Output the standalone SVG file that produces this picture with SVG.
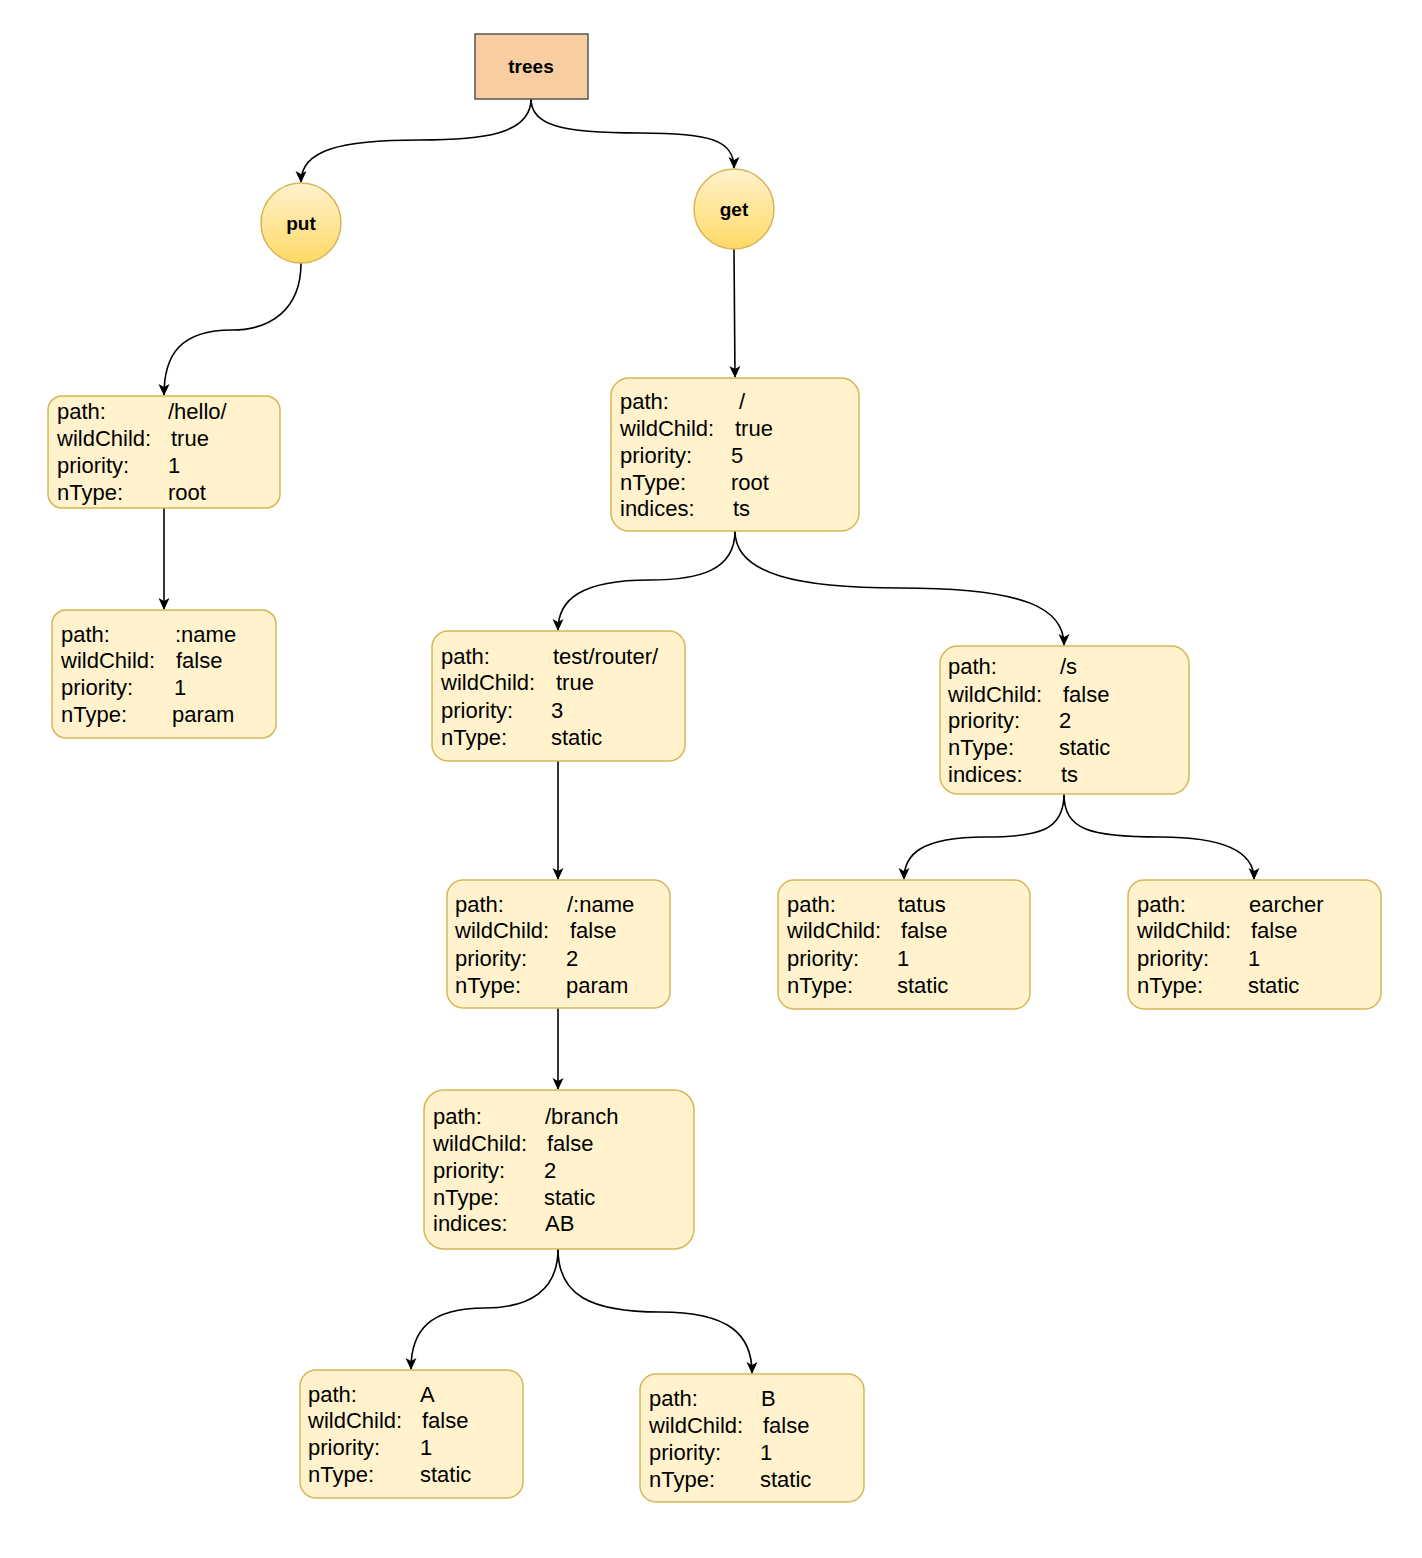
<svg xmlns="http://www.w3.org/2000/svg" width="1422" height="1558" viewBox="0 0 1422 1558">
<defs>
<linearGradient id="yg" x1="0" y1="0" x2="0" y2="1">
<stop offset="0" stop-color="#fff2cc"/>
<stop offset="1" stop-color="#ffd966"/>
</linearGradient>
<marker id="arr" viewBox="0 0 12 12" refX="11" refY="6" markerWidth="12" markerHeight="12" markerUnits="userSpaceOnUse" orient="auto">
<path d="M0,0.5 L12,6 L0,11.5 L3,6 z" fill="#000"/>
</marker>
</defs>
<style>
.n rect{fill:#fff2cc;stroke:#d6b656;stroke-width:1.5}
.n text{font-family:"Liberation Sans",Arial,sans-serif;font-size:22px;fill:#000}
.c{fill:url(#yg);stroke:#d6b656;stroke-width:1.5}
.b{font-family:"Liberation Sans",Arial,sans-serif;font-size:19px;font-weight:bold;fill:#000;text-anchor:middle}
.e path{fill:none;stroke:#000;stroke-width:1.6;marker-end:url(#arr)}
</style>
<g class="e" id="connectors">
<path d="M531,99 C531,135 480,140 420,140 C340,140 301,150 301,182"/>
<path d="M531,99 C531,125 560,133 640,133 C710,133 734,140 734,168"/>
<path d="M301,263 C301,310 270,330 232,330 C180,330 164,355 164,395"/>
<path d="M164,508 L164,609"/>
<path d="M734,249 L735,377"/>
<path d="M735,531 C735,570 700,580 650,580 C580,580 558,600 558,630"/>
<path d="M735,531 C735,575 800,588 900,588 C1030,588 1064,610 1064,645"/>
<path d="M558,761 L558,879"/>
<path d="M558,1008 L558,1089"/>
<path d="M1064,794 C1064,830 1040,837 985,837 C920,837 904,855 904,879"/>
<path d="M1064,794 C1064,830 1090,837 1160,837 C1230,837 1254,855 1254,879"/>
<path d="M558,1249 C558,1290 530,1308 485,1308 C430,1308 411,1330 411,1369"/>
<path d="M558,1249 C558,1295 590,1312 660,1312 C730,1312 752,1335 752,1373"/>
</g>
<g id="trees">
<rect x="475" y="34" width="113" height="65" fill="#f8cda0" stroke="#555" stroke-width="1.5"/>
<text class="b" x="531" y="73">trees</text>
</g>
<g id="put">
<circle class="c" cx="301" cy="223" r="40"/>
<text class="b" x="301" y="230">put</text>
</g>
<g id="get">
<circle class="c" cx="734" cy="209" r="40"/>
<text class="b" x="734" y="216">get</text>
</g>
<g class="n" id="put-root">
<rect x="48" y="396" width="232" height="112" rx="14"/>
<text x="57" y="419">path:</text><text x="168" y="419">/hello/</text>
<text x="57" y="446">wildChild:</text><text x="171" y="446">true</text>
<text x="57" y="473">priority:</text><text x="168" y="473">1</text>
<text x="57" y="500">nType:</text><text x="168" y="500">root</text>
</g>
<g class="n" id="put-name">
<rect x="52" y="610" width="224" height="128" rx="14"/>
<text x="61" y="642">path:</text><text x="175" y="642">:name</text>
<text x="61" y="668">wildChild:</text><text x="176" y="668">false</text>
<text x="61" y="695">priority:</text><text x="174" y="695">1</text>
<text x="61" y="722">nType:</text><text x="172" y="722">param</text>
</g>
<g class="n" id="get-root">
<rect x="611" y="378" width="248" height="153" rx="18"/>
<text x="620" y="409">path:</text><text x="739" y="409">/</text>
<text x="620" y="436">wildChild:</text><text x="735" y="436">true</text>
<text x="620" y="463">priority:</text><text x="731" y="463">5</text>
<text x="620" y="490">nType:</text><text x="731" y="490">root</text>
<text x="620" y="516">indices:</text><text x="733" y="516">ts</text>
</g>
<g class="n" id="test-router">
<rect x="432" y="631" width="253" height="130" rx="16"/>
<text x="441" y="664">path:</text><text x="553" y="664">test/router/</text>
<text x="441" y="690">wildChild:</text><text x="556" y="690">true</text>
<text x="441" y="718">priority:</text><text x="551" y="718">3</text>
<text x="441" y="745">nType:</text><text x="551" y="745">static</text>
</g>
<g class="n" id="s">
<rect x="940" y="646" width="249" height="148" rx="18"/>
<text x="948" y="674">path:</text><text x="1060" y="674">/s</text>
<text x="948" y="702">wildChild:</text><text x="1063" y="702">false</text>
<text x="948" y="728">priority:</text><text x="1059" y="728">2</text>
<text x="948" y="755">nType:</text><text x="1059" y="755">static</text>
<text x="948" y="782">indices:</text><text x="1061" y="782">ts</text>
</g>
<g class="n" id="name">
<rect x="447" y="880" width="223" height="128" rx="16"/>
<text x="455" y="912">path:</text><text x="567" y="912">/:name</text>
<text x="455" y="938">wildChild:</text><text x="570" y="938">false</text>
<text x="455" y="966">priority:</text><text x="566" y="966">2</text>
<text x="455" y="993">nType:</text><text x="566" y="993">param</text>
</g>
<g class="n" id="tatus">
<rect x="778" y="880" width="252" height="129" rx="16"/>
<text x="787" y="912">path:</text><text x="898" y="912">tatus</text>
<text x="787" y="938">wildChild:</text><text x="901" y="938">false</text>
<text x="787" y="966">priority:</text><text x="897" y="966">1</text>
<text x="787" y="993">nType:</text><text x="897" y="993">static</text>
</g>
<g class="n" id="earcher">
<rect x="1128" y="880" width="253" height="129" rx="16"/>
<text x="1137" y="912">path:</text><text x="1249" y="912">earcher</text>
<text x="1137" y="938">wildChild:</text><text x="1251" y="938">false</text>
<text x="1137" y="966">priority:</text><text x="1248" y="966">1</text>
<text x="1137" y="993">nType:</text><text x="1248" y="993">static</text>
</g>
<g class="n" id="branch">
<rect x="424" y="1090" width="270" height="159" rx="20"/>
<text x="433" y="1124">path:</text><text x="545" y="1124">/branch</text>
<text x="433" y="1151">wildChild:</text><text x="547" y="1151">false</text>
<text x="433" y="1178">priority:</text><text x="544" y="1178">2</text>
<text x="433" y="1205">nType:</text><text x="544" y="1205">static</text>
<text x="433" y="1231">indices:</text><text x="545" y="1231">AB</text>
</g>
<g class="n" id="A">
<rect x="300" y="1370" width="223" height="128" rx="16"/>
<text x="308" y="1402">path:</text><text x="420" y="1402">A</text>
<text x="308" y="1428">wildChild:</text><text x="422" y="1428">false</text>
<text x="308" y="1455">priority:</text><text x="420" y="1455">1</text>
<text x="308" y="1482">nType:</text><text x="420" y="1482">static</text>
</g>
<g class="n" id="B">
<rect x="640" y="1374" width="224" height="128" rx="16"/>
<text x="649" y="1406">path:</text><text x="761" y="1406">B</text>
<text x="649" y="1433">wildChild:</text><text x="763" y="1433">false</text>
<text x="649" y="1460">priority:</text><text x="760" y="1460">1</text>
<text x="649" y="1487">nType:</text><text x="760" y="1487">static</text>
</g>
</svg>
